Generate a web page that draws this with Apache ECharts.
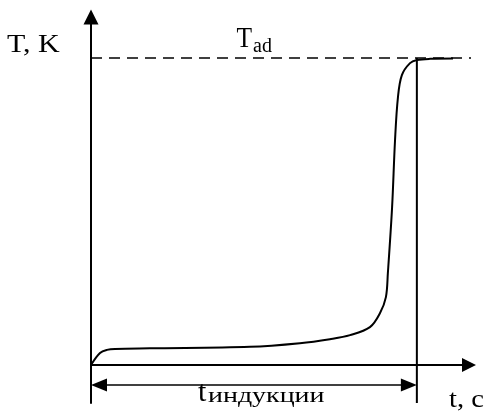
<!DOCTYPE html>
<html>
<head>
<meta charset="utf-8">
<script src="https://cdn.jsdelivr.net/npm/echarts@6/dist/echarts.min.js"></script>
<style>
html,body{margin:0;padding:0;background:#fff;}
#chart{width:485px;height:413px;}
</style>
</head>
<body>
<div id="chart"></div>
<script>
// Data (t in arbitrary units, induction time = 100; T in % of T_ad)
const timeValues = [0, 2.76, 4.91, 7.37, 18.1, 48.8, 64.1, 73.3, 79.5, 85.6, 88.7, 90.5, 91.1, 92.4, 93.3, 94.2, 95.4, 97.9, 100.0, 104.0, 111.1];
const tempValues = [0, 3.9, 4.9, 5.2, 5.4, 5.9, 7.1, 8.4, 9.7, 12.3, 16.9, 22.1, 29.9, 51.4, 73.2, 87.2, 94.4, 98.3, 99.3, 99.7, 99.8];
const tAd = 100;            // adiabatic temperature level
const tInduction = 100;     // induction time
const dashedEnd = 120.3;    // end of the T_ad dashed line
const xRange = [0, 116];
const yRange = [-12.4, 113.33];
const inductionArrowY = -6.5;
const labels = { yName: 'T, K', xName: 't, c', tad: 'T', tadSub: 'ad', ind: 't', indSub: 'индукции' };

const curve = timeValues.map((t, i) => [t, tempValues[i]]);

const chart = echarts.init(document.getElementById('chart'), null, { renderer: 'canvas' });

const gridLeft = 91, gridWidth = 378;
const pxPerUnit = gridWidth / (xRange[1] - xRange[0]);
const arrowPad = 8 / pxPerUnit;

const font = 'Liberation Serif, Times New Roman, serif';
function txt(text, x, y, size, sx) {
  return {
    type: 'text', x: x, y: y, scaleX: sx || 1, scaleY: 1,
    style: { text: text, x: 0, y: 0, font: size + 'px ' + font, fill: '#000',
      textAlign: 'left', textVerticalAlign: 'middle', align: 'left', verticalAlign: 'middle' },
    z: 100
  };
}

chart.setOption({
  animation: false,
  backgroundColor: '#fff',
  grid: { left: gridLeft, width: gridWidth, top: 17, height: 386 },
  xAxis: {
    type: 'value', min: xRange[0], max: xRange[1],
    axisLine: { show: true, onZero: true, symbol: ['none', 'triangle'], symbolSize: [14, 14],
      lineStyle: { color: '#000', width: 2 } },
    axisTick: { show: false }, axisLabel: { show: false }, splitLine: { show: false }
  },
  yAxis: {
    type: 'value', min: yRange[0], max: yRange[1],
    axisLine: { show: true, onZero: true, symbol: ['none', 'triangle'], symbolSize: [15, 15],
      lineStyle: { color: '#000', width: 2 } },
    axisTick: { show: false }, axisLabel: { show: false }, splitLine: { show: false }
  },
  series: [
    {
      type: 'line', data: curve, smooth: 0.35, showSymbol: false, symbol: 'none',
      lineStyle: { color: '#000', width: 2 }, z: 5
    },
    {
      type: 'line', data: [[0, tAd], [dashedEnd, tAd]], clip: false, showSymbol: false, symbol: 'none',
      lineStyle: { color: '#000', width: 1.5, type: [11, 7] }, z: 3
    },
    {
      type: 'line', data: [[tInduction, yRange[0]], [tInduction, tAd]], showSymbol: false, symbol: 'none',
      lineStyle: { color: '#000', width: 2 }, z: 4,
      markLine: {
        silent: true, symbol: ['triangle', 'triangle'], symbolSize: [13, 16],
        label: { show: false },
        lineStyle: { color: '#000', width: 1.5, type: 'solid' },
        data: [[{ coord: [0 + arrowPad, inductionArrowY] }, { coord: [tInduction - arrowPad, inductionArrowY] }]]
      }
    }
  ],
  graphic: [
    txt(labels.yName, 7, 45.5, 25, 1.2),
    txt(labels.tad, 236.5, 39.4, 30, 0.85),
    txt(labels.tadSub, 253, 46.6, 20, 1),
    txt(labels.ind, 198, 393.4, 30, 1),
    txt(labels.indSub, 208, 396, 22, 1.27),
    txt(labels.xName, 449, 399.7, 26, 1.1)
  ]
});
</script>
</body>
</html>
